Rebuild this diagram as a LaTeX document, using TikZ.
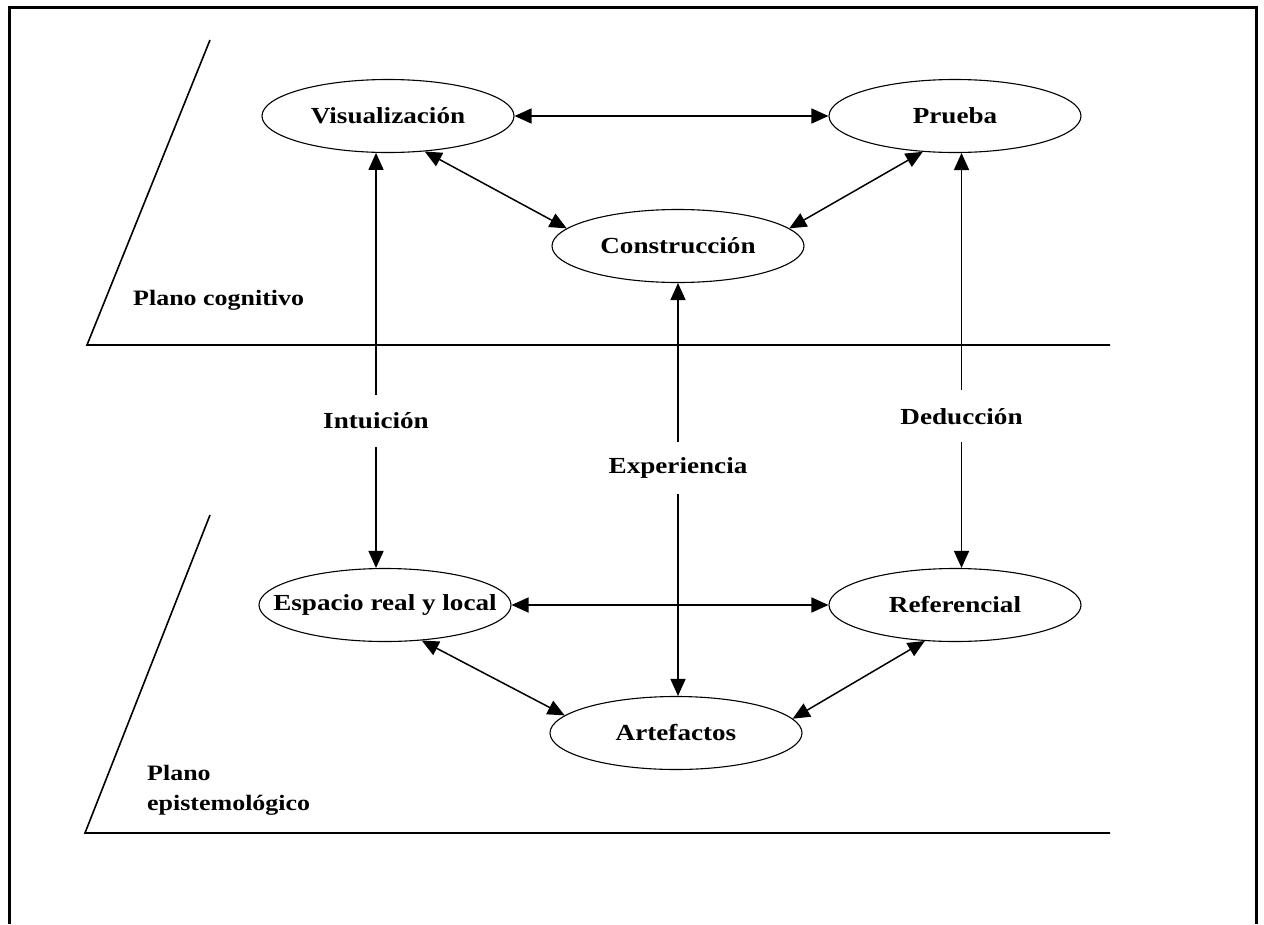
\documentclass[tikz,border=0pt]{standalone}
\usepackage{fontspec}
\setmainfont{Liberation Serif}[FakeStretch=1.18]
\usetikzlibrary{shapes.geometric,arrows.meta}
\tikzset{
  oval/.style={ellipse,draw,line width=1.1pt,minimum width=252pt,minimum height=73pt,inner sep=0pt,font=\fontsize{23}{27}\selectfont\bfseries},
  link/.style={line width=1.5pt,{Triangle[length=17pt,width=15pt]}-{Triangle[length=17pt,width=15pt]}},
  plane/.style={line width=1.6pt},
  lab/.style={fill=white,inner xsep=4pt,minimum height=52pt,font=\fontsize{23}{27}\selectfont\bfseries},
  planelab/.style={anchor=west,align=left,inner sep=0pt,font=\fontsize{22}{30}\selectfont\bfseries}
}
\newcommand{\zt}[1]{\makebox[0pt]{#1}}
\begin{document}
\begin{tikzpicture}[x=1pt,y=-1pt]
\useasboundingbox (0,0) rectangle (1264,924);
\fill[white] (0,0) rectangle (1264,924);
% frame
\draw[line width=3.5pt] (9.5,924) -- (9.5,7.5) -- (1256.5,7.5) -- (1256.5,924);
% planes
\coordinate (p1a) at (210,40);
\coordinate (p1b) at (87,345);
\coordinate (p1c) at (1110,345);
\draw[plane] (p1a) -- (p1b) -- (p1c);
\coordinate (p2a) at (210,515);
\coordinate (p2b) at (85,833);
\coordinate (p2c) at (1110,833);
\draw[plane] (p2a) -- (p2b) -- (p2c);
\node[planelab] (pc) at (133,300) {Plano cognitivo};
\node[planelab] (pe) at (147,790) {Plano\\epistemológico};
% ellipses
\node[oval] (vis) at (388,116) {\zt{Visualización}};
\node[oval] (pru) at (955,116) {\zt{Prueba}};
\node[oval] (con) at (678,246) {\zt{Construcción}};
\node[oval] (esp) at (385,605) {\zt{Espacio real y local}};
\node[oval] (ref) at (955,605) {\zt{Referencial}};
\node[oval] (art) at (676,733) {\zt{Artefactos}};
% connectors
\draw[link] (vis.east) -- (pru.west);
\draw[link] (vis.-44) -- (con.171);
\draw[link] (con.9) -- (pru.-132);
\draw[link] (esp.east) -- (ref.west);
\draw[link] (esp.-44) -- (art.171);
\draw[link] (art.7) -- (ref.-130);
\draw[link] (vis.-108) -- node[lab,pos=0.645] (int) {Intuición} (vis.-108 |- esp.north);
\draw[link] (con.south) -- node[lab,pos=0.447] (exp) {Experiencia} (con.south |- art.north);
\draw[link] (pru.-80) -- node[lab,pos=0.635] (ded) {Deducción} (pru.-80 |- ref.north);
\end{tikzpicture}
\end{document}
